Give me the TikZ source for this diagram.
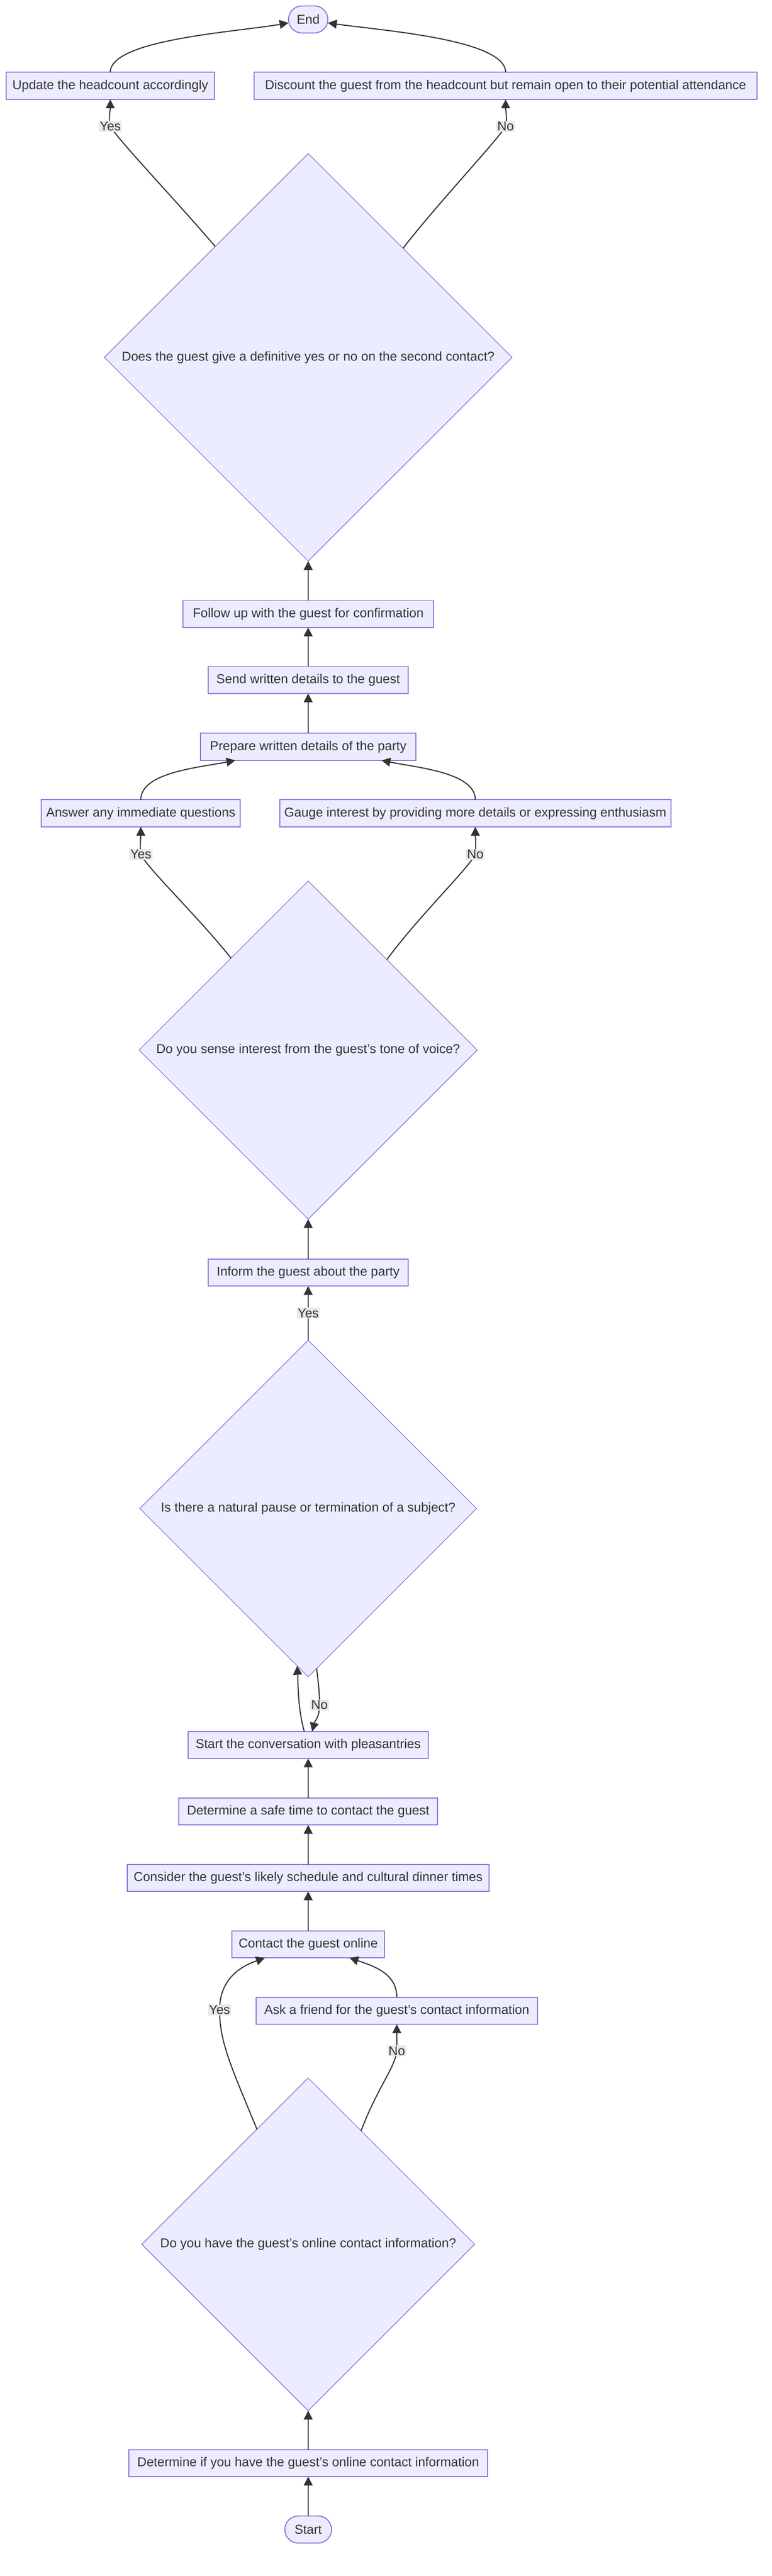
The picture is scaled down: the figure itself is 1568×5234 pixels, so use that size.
\documentclass[tikz,border=0pt]{standalone}
\usepackage{fontspec}
\setmainfont{Liberation Sans}
\usetikzlibrary{shapes.geometric, positioning, arrows.meta}

\definecolor{boxfill}{HTML}{ECECFF}
\definecolor{boxline}{HTML}{9370DB}
\definecolor{ink}{HTML}{333333}
\definecolor{lblgray}{HTML}{E8E8E8}

\tikzset{
  box/.style={rectangle, draw=boxline, fill=boxfill, line width=1pt, text=ink, outer sep=0pt,
    minimum height=27.5pt, inner xsep=3pt, font=\fontsize{13.1}{15}\selectfont},
  term/.style={box, rounded corners=13.75pt},
  decision/.style={diamond, shape aspect=1, draw=boxline, fill=boxfill, line width=0.7pt,
    text=ink, inner sep=0pt, outer sep=0pt, font=\fontsize{13.1}{15}\selectfont},
  lbl/.style={fill=lblgray, text=ink, inner sep=1pt, font=\fontsize{13.1}{15}\selectfont}
}

\begin{document}
\begin{tikzpicture}[->,>={Triangle[length=9pt,width=9pt]},line width=1.1pt,color=ink,x=0.5pt,y=-0.5pt]
            \useasboundingbox (0,0) rectangle (1568,5234);

            \node[term, minimum width=47.5pt] (start) at (626,5139.5) {Start};
            \node[box, minimum width=364pt] (detif) [above=40pt of start] {Determine if you have the guest's online contact information};
            \node[decision, minimum size=338pt] (online) [above=39.5pt of detif] {Do you have the guest's online contact information?};
            \node[box, minimum width=286pt] (ask) [above=54.5pt of online, xshift=90pt] {Ask a friend for the guest's contact information};
            \node[box, minimum width=155pt] (contact) [above=40pt of ask, xshift=-90pt] {Contact the guest online};
            \node[box, minimum width=367pt] (consider) [above=40pt of contact] {Consider the guest's likely schedule and cultural dinner times};
            \node[box, minimum width=263pt] (safe) [above=40pt of consider] {Determine a safe time to contact the guest};
            \node[box, minimum width=244pt] (conv) [above=40pt of safe] {Start the conversation with pleasantries};
            \node[decision, minimum size=342pt] (pause) [above=55.5pt of conv] {Is there a natural pause or termination of a subject?};
            \node[box, minimum width=203pt] (inform) [above=55pt of pause] {Inform the guest about the party};
            \node[decision, minimum size=343.5pt] (tone) [above=40.5pt of inform] {Do you sense interest from the guest's tone of voice?};
            \node[box, minimum width=202pt] (answer) [above=55pt of tone, xshift=-170pt] {Answer any immediate questions};
            \node[box, minimum width=397.5pt] (gauge) [above=55pt of tone, xshift=169.75pt] {Gauge interest by providing more details or expressing enthusiasm};
            \node[box, minimum width=219pt] (prepare) [above=40pt of answer, xshift=170pt] {Prepare written details of the party};
            \node[box, minimum width=203pt] (send) [above=40.5pt of prepare] {Send written details to the guest};
            \node[box, minimum width=254pt] (follow) [above=39.5pt of send] {Follow up with the guest for confirmation};
            \node[decision, minimum size=414pt] (definitive) [above=40pt of follow] {Does the guest give a definitive yes or no on the second contact?};
            \node[box, minimum width=211pt] (update) [above=55pt of definitive, xshift=-201pt] {Update the headcount accordingly};
            \node[box, minimum width=511pt] (discount) [above=55pt of definitive, xshift=200.5pt] {Discount the guest from the headcount but remain open to their potential attendance};
            \node[term, minimum width=40pt] (finish) [above=40pt of update, xshift=201pt] {End};

            \draw (start) -- (detif);
            \draw (detif) -- (online);
            \draw (online.114.6) .. controls (470,4200) and (446,4150) .. (446,4084) node[lbl] {Yes}
                .. controls (446,4020) and (490,3995) .. ([xshift=-44pt]contact.south);
            \draw (online.65.4) .. controls (765,4245) and (803,4200) .. (806,4167) node[lbl] {No} -- (ask.south);
            \draw (ask.north) .. controls (806,4010) and (760,3995) .. ([xshift=42pt]contact.south);
            \draw (contact) -- (consider);
            \draw (consider) -- (safe);
            \draw (safe) -- (conv);
            \draw ([xshift=-4pt]conv.north) .. controls (605,3470) and (606,3430) .. (pause.266.8);
            \draw (pause.273.4) .. controls (647,3420) and (649,3440) .. (649,3464) node[lbl] {No}
                .. controls (649,3490) and (640,3495) .. ([xshift=4pt]conv.north);
            \draw (pause) -- node[lbl] {Yes} (inform);
            \draw (inform) -- (tone);
            \draw (tone.130.5) .. controls (400,1860) and (300,1765) .. (286,1736) node[lbl] {Yes}
                .. controls (284,1715) and (286,1700) .. (answer.south);
            \draw (tone.49.5) .. controls (852,1860) and (951,1765) .. (965.5,1736) node[lbl] {No}
                .. controls (967,1715) and (965.5,1700) .. (gauge.south);
            \draw (answer.north) .. controls (286,1570) and (400,1560) .. ([xshift=-74pt]prepare.south);
            \draw (gauge.north) .. controls (965.5,1570) and (850,1560) .. ([xshift=74.5pt]prepare.south);
            \draw (prepare) -- (send);
            \draw (send) -- (follow);
            \draw (follow) -- (definitive);
            \draw (definitive.130.6) .. controls (360,410) and (245,290) .. (224,257) node[lbl] {Yes}
                .. controls (220,240) and (224,225) .. (update.south);
            \draw (definitive.49.4) .. controls (892,410) and (1006,290) .. (1027,257) node[lbl] {No}
                .. controls (1031,240) and (1027,225) .. (discount.south);
            \draw (update.north) .. controls (224,80) and (480,65) .. ([yshift=-3.5pt]finish.west);
            \draw (discount.north) .. controls (1027,80) and (775,62) .. ([yshift=-3.5pt]finish.east);
        \end{tikzpicture}
\end{document}
